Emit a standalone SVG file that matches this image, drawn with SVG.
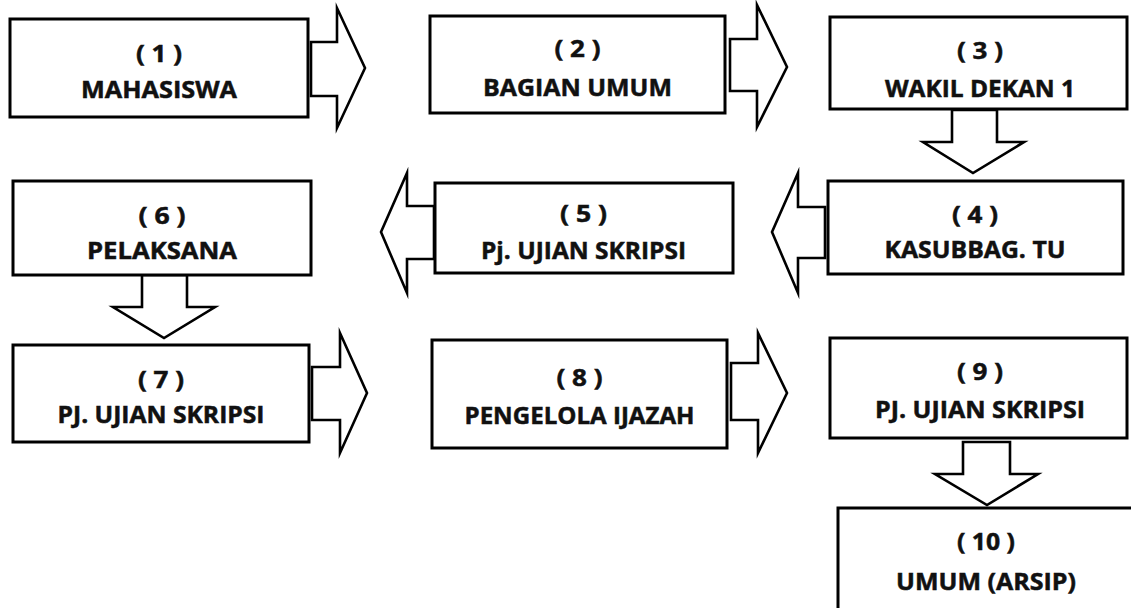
<svg xmlns="http://www.w3.org/2000/svg" width="1131" height="608" viewBox="0 0 1131 608">
  <style>
    .box { fill: #ffffff; stroke: #000000; stroke-width: 3; }
    .arrow { fill: #ffffff; stroke: #000000; stroke-width: 2.6; stroke-linejoin: miter; stroke-miterlimit: 10; }
    .lbl { font-family: "Open Sans", "Liberation Sans", sans-serif; font-weight: 700; font-size: 24px; fill: #111111; stroke: #111111; stroke-width: 0.5; text-anchor: middle; }
  </style>
  <rect x="0" y="0" width="1131" height="608" fill="#ffffff"/>

  <!-- block arrows between steps -->
  <g id="connectors">
    <polygon class="arrow" points="311,42 337,42 337,8 365,68 337,128 337,96 311,96"/>
    <polygon class="arrow" points="730,39 757,39 757,5 787,67 757,127 757,91 730,91"/>
    <polygon class="arrow" points="952,110 997,110 997,142 1024,142 973,173 923,142 952,142"/>
    <polygon class="arrow" points="825,207 798,207 798,173 772,232 798,293 798,258 825,258"/>
    <polygon class="arrow" points="434,206 407,206 407,173 381,232 407,293 407,259 434,259"/>
    <polygon class="arrow" points="142,275 187,275 187,307 215,307 164,338 113,307 142,307"/>
    <polygon class="arrow" points="312,367 340,367 340,333 367,393 340,453 340,420 312,420"/>
    <polygon class="arrow" points="731,363 758,363 758,333 787,393 758,453 758,420 731,420"/>
    <polygon class="arrow" points="963,442 1010,442 1010,474 1038,474 987,505 935,474 963,474"/>
  </g>

  <g id="node1">
    <rect class="box" x="10" y="19" width="298" height="98"/>
    <text class="lbl" x="159" y="62" textLength="46" lengthAdjust="spacingAndGlyphs">( 1 )</text>
    <text class="lbl" x="159" y="98" textLength="156" lengthAdjust="spacingAndGlyphs">MAHASISWA</text>
  </g>
  <g id="node2">
    <rect class="box" x="430" y="16" width="295" height="97"/>
    <text class="lbl" x="577.5" y="57" textLength="46" lengthAdjust="spacingAndGlyphs">( 2 )</text>
    <text class="lbl" x="577.5" y="96" textLength="189" lengthAdjust="spacingAndGlyphs">BAGIAN UMUM</text>
  </g>
  <g id="node3">
    <rect class="box" x="830" y="17" width="297" height="92"/>
    <text class="lbl" x="980" y="59" textLength="46" lengthAdjust="spacingAndGlyphs">( 3 )</text>
    <text class="lbl" x="980" y="97" textLength="190" lengthAdjust="spacingAndGlyphs">WAKIL DEKAN 1</text>
  </g>
  <g id="node4">
    <rect class="box" x="828" y="181" width="295" height="93"/>
    <text class="lbl" x="975" y="223" textLength="46" lengthAdjust="spacingAndGlyphs">( 4 )</text>
    <text class="lbl" x="975" y="258" textLength="181" lengthAdjust="spacingAndGlyphs">KASUBBAG. TU</text>
  </g>
  <g id="node5">
    <rect class="box" x="435" y="183" width="298" height="90"/>
    <text class="lbl" x="583.5" y="222" textLength="47" lengthAdjust="spacingAndGlyphs">( 5 )</text>
    <text class="lbl" x="583.5" y="259" textLength="205" lengthAdjust="spacingAndGlyphs">Pj. UJIAN SKRIPSI</text>
  </g>
  <g id="node6">
    <rect class="box" x="13" y="181" width="298" height="94"/>
    <text class="lbl" x="162" y="224" textLength="47" lengthAdjust="spacingAndGlyphs">( 6 )</text>
    <text class="lbl" x="162" y="259" textLength="150" lengthAdjust="spacingAndGlyphs">PELAKSANA</text>
  </g>
  <g id="node7">
    <rect class="box" x="13" y="345" width="296" height="97"/>
    <text class="lbl" x="161" y="388" textLength="46" lengthAdjust="spacingAndGlyphs">( 7 )</text>
    <text class="lbl" x="161" y="423" textLength="207" lengthAdjust="spacingAndGlyphs">PJ. UJIAN SKRIPSI</text>
  </g>
  <g id="node8">
    <rect class="box" x="432" y="340" width="295" height="108"/>
    <text class="lbl" x="579.5" y="386" textLength="46" lengthAdjust="spacingAndGlyphs">( 8 )</text>
    <text class="lbl" x="579.5" y="424" textLength="230" lengthAdjust="spacingAndGlyphs">PENGELOLA IJAZAH</text>
  </g>
  <g id="node9">
    <rect class="box" x="830" y="338" width="297" height="100"/>
    <text class="lbl" x="980" y="380" textLength="46" lengthAdjust="spacingAndGlyphs">( 9 )</text>
    <text class="lbl" x="980" y="418" textLength="210" lengthAdjust="spacingAndGlyphs">PJ. UJIAN SKRIPSI</text>
  </g>
  <g id="node10">
    <rect class="box" x="838" y="508" width="296" height="110"/>
    <text class="lbl" x="986" y="550" textLength="58" lengthAdjust="spacingAndGlyphs">( 10 )</text>
    <text class="lbl" x="986" y="590" textLength="180" lengthAdjust="spacingAndGlyphs">UMUM (ARSIP)</text>
  </g>
</svg>
